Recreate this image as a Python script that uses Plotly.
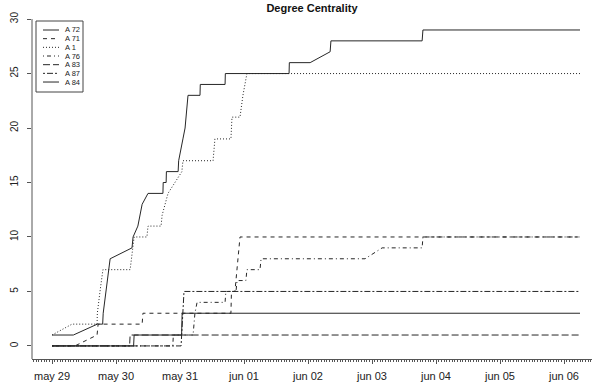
import datetime as dt
import plotly.graph_objects as go

# ---- data (hours since may 29 00:00, degree value) ----
names = ["A 72", "A 71", "A 1", "A 76", "A 83", "A 87", "A 84"]

a72_h = [0, 8, 17, 19, 19.2, 21.8, 30, 30.4, 32.2, 33, 33.8, 36, 41.6, 41.7, 42.8, 42.9, 47.3, 47.5,
         48.4, 49.1, 49.9, 50.6, 51, 55.5, 55.6, 64.9, 65, 88.9, 89, 96.8, 104.3, 104.6, 138.8, 139.1, 198]
a72_v = [1, 1, 2, 2, 3, 8, 9, 10, 11, 12, 13, 14, 14, 15, 15, 16, 16, 17,
         18, 19, 20, 22, 23, 23, 24, 24, 25, 25, 26, 26, 27, 28, 28, 29, 29]

a71_h = [0, 8.6, 16.9, 17.3, 33.8, 34.1, 67.1, 67.3, 68.6, 70.5, 198]
a71_v = [0, 0, 1, 2, 2, 3, 3, 5, 5, 10, 10]

a1_h = [0, 7.5, 16.9, 17, 18, 19.1, 29.3, 30.4, 30.8, 35.6, 36, 40.9, 41.3, 43.5, 46.1, 48.7, 49.1,
        60.4, 61.1, 67.1, 67.5, 70.5, 71.6, 73.1, 198]
a1_v = [1, 2, 2, 3, 5, 7, 7, 9, 10, 10, 11, 11, 12, 14, 15, 16, 17,
        17, 19, 19, 21, 21, 23, 25, 25]

a76_h = [0, 45.3, 45.5, 52.9, 53.6, 54.4, 64.9, 65.2, 69, 69.4, 72.7, 73.1, 78, 78.4,
         117.4, 123.8, 138.8, 139.1, 198]
a76_v = [0, 0, 1, 1, 3, 4, 4, 5, 5, 6, 6, 7, 7, 8, 8, 9, 9, 10, 10]

a83_h = [0, 29.1, 29.3, 198]
a83_v = [0, 0, 1, 1]

a87_h = [0, 48.4, 49.5, 198]
a87_v = [0, 0, 5, 5]

a84_h = [0, 30.6, 30.8, 48.6, 48.8, 198]
a84_v = [0, 0, 1, 1, 3, 3]

tick_labels = ["may 29", "may 30", "may 31", "jun 01", "jun 02", "jun 03", "jun 04", "jun 05", "jun 06"]
y_ticks = [0, 5, 10, 15, 20, 25, 30]

series_h = [a72_h, a71_h, a1_h, a76_h, a83_h, a87_h, a84_h]
series_v = [a72_v, a71_v, a1_v, a76_v, a83_v, a87_v, a84_v]
dashes = ["solid", "4px,4px", "1px,2px", "1px,3px,4px,3px", "7px,3px", "2px,2px,6px,2px", "solid"]

base = dt.datetime(2010, 5, 29)
def t(h):
    return base + dt.timedelta(hours=h)

fig = go.Figure()
for nm, hs, vs, ds in zip(names, series_h, series_v, dashes):
    fig.add_trace(go.Scatter(x=[t(h) for h in hs], y=vs, mode="lines", name=nm,
                             line=dict(color="#262626", width=1, dash=ds), showlegend=False))

axis_col = "#555555"
fig.update_layout(
    width=592, height=386,
    margin=dict(l=32, r=0, t=6, b=27),
    plot_bgcolor="white", paper_bgcolor="white",
    font=dict(family="Liberation Sans, Arial, sans-serif", size=11, color="#222222"),
    title=dict(text="<b>Degree Centrality</b>", x=0.527, xanchor="center", y=0.979, yanchor="middle",
               font=dict(size=11, color="#111111")),
    xaxis=dict(
        type="date", range=[t(-7.5), t(202.5)],
        tickmode="array", tickvals=[t(24 * k) for k in range(len(tick_labels))], ticktext=tick_labels,
        ticks="outside", ticklen=4, tickcolor=axis_col, showline=True, linecolor=axis_col, linewidth=1,
        showgrid=False, zeroline=False, ticklabelstandoff=3,
        minor=dict(ticks="outside", ticklen=2, dtick=3600000, tick0=t(0), tickcolor=axis_col, showgrid=False),
        tickfont=dict(size=11),
    ),
    yaxis=dict(
        range=[-1.2, 31.2], tickmode="array", tickvals=y_ticks, ticktext=[str(v) for v in y_ticks],
        ticks="outside", ticklen=4, tickcolor=axis_col, showline=False, showgrid=False, zeroline=False,
        tickangle=-90, tickfont=dict(size=10), ticklabelstandoff=5,
    ),
)

# left axis line (from bottom of plot region up to the top tick)
fig.add_shape(type="line", xref="paper", yref="y", x0=0, x1=0, y0=-1.2, y1=30,
              line=dict(color=axis_col, width=1))

# ---- legend drawn manually ----
lx0, lx1 = (36 - 32) / 560, (83 - 32) / 560
ly_top, ly_bot = (359 - 21) / 353, (359 - 92) / 353
fig.add_shape(type="rect", xref="paper", yref="paper", x0=lx0, x1=lx1, y0=ly_bot, y1=ly_top,
              line=dict(color="#444444", width=1), fillcolor="white", layer="above")
for i, (nm, ds) in enumerate(zip(names, dashes)):
    py = 30 + i * 8.67
    yp = (359 - py) / 353
    fig.add_shape(type="line", xref="paper", yref="paper",
                  x0=(43 - 32) / 560, x1=(59 - 32) / 560, y0=yp, y1=yp,
                  line=dict(color="#262626", width=1, dash=ds), layer="above")
    fig.add_annotation(xref="paper", yref="paper", x=(63 - 32) / 560, y=yp, text=nm,
                       showarrow=False, xanchor="left", yanchor="middle",
                       font=dict(size=7.5, color="#222222"))

fig.write_html("out.html", config={"displayModeBar": False},
               post_script="document.body.style.margin='0';document.body.style.overflow='hidden';")
